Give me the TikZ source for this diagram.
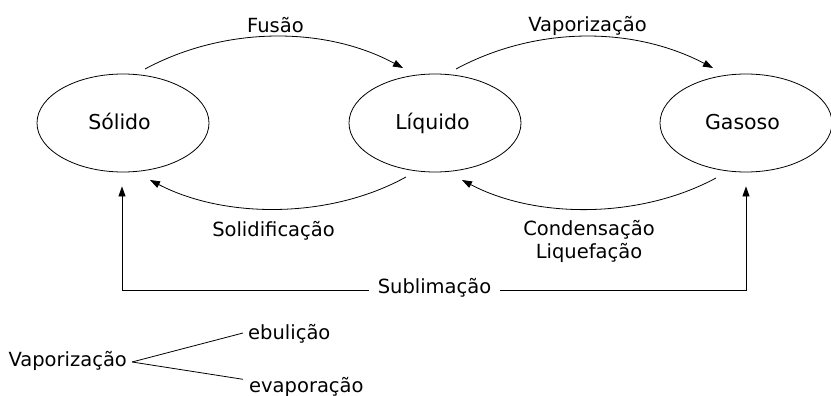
\documentclass[tikz,border=0pt]{standalone}
\usepackage{fontspec}
\setmainfont{DejaVu Sans}
\usetikzlibrary{shapes.geometric,arrows.meta}
\begin{document}
\begin{tikzpicture}[x=1pt,y=-1pt,
  every node/.style={font=\fontsize{19.5}{22}\selectfont},
  state/.style={draw,ellipse,line width=0.8pt,minimum width=172pt,minimum height=98pt,inner sep=0pt},
  statetext/.style={anchor=base,inner sep=0pt,font=\fontsize{20.5}{22}\selectfont},
  conn/.style={line width=0.8pt},
  arr/.style={conn,-{Triangle[length=10pt,width=7pt]}},
  lbl/.style={inner sep=0pt,anchor=base}]
\useasboundingbox (0,0) rectangle (831,396);
\node[state] (sol) at (123,123) {};
\node[state] (liq) at (435,123) {};
\node[state] (gas) at (746,123) {};
\node[statetext] (solt) at (119.5,130) {Sólido};
\node[statetext] (liqt) at (432.5,130) {Líquido};
\node[statetext] (gast) at (742.5,130) {Gasoso};
% transition labels
\node[lbl] (fus) at (275.5,32.5) {Fusão};
\node[lbl] (vap) at (587.5,31.5) {Vaporização};
\node[lbl] (sold) at (273.5,236.5) {Solidificação};
\node[lbl] (cond) at (589,235) {Condensação};
\node[lbl] (liqf) at (589,258) {Liquefação};
\node[inner ysep=0pt,inner xsep=9pt,text height=10pt,text depth=3.4pt] (sub) at (434.5,290) {Sublimação};
% curved transitions (end points next to the ellipses)
\coordinate (fusA) at (145,69);  \coordinate (fusB) at (403,68);
\coordinate (vapA) at (456,69);  \coordinate (vapB) at (713,68);
\coordinate (solA) at (406,177); \coordinate (solB) at (150,180);
\coordinate (conA) at (716,178); \coordinate (conB) at (462,180);
\draw[arr] (fusA) .. controls (225,26) and (325,26) .. (fusB);
\draw[arr] (vapA) .. controls (536,26) and (633,26) .. (vapB);
\draw[arr] (solA) .. controls (330,219) and (225,219) .. (solB);
\draw[arr] (conA) .. controls (640,219) and (536,219) .. (conB);
% sublimation
\draw[arr] (sub.west) -| ([xshift=-1pt,yshift=-14pt]sol.south);
\draw[arr] (sub.east) -| ([yshift=-14pt]gas.south);
% vaporization types
\node[lbl] (vtype) at (67.7,366.7) {Vaporização};
\node[lbl,anchor=base west] (ebu) at (248,339) {ebulição};
\node[lbl,anchor=base west] (eva) at (249,392.5) {evaporação};
\coordinate (vfork) at ([xshift=5pt,yshift=4.7pt]vtype.base east);
\draw[conn] (vfork) -- ([xshift=-5pt,yshift=6pt]ebu.base west);
\draw[conn] (vfork) -- ([xshift=-6pt,yshift=13.2pt]eva.base west);
\end{tikzpicture}
\end{document}
